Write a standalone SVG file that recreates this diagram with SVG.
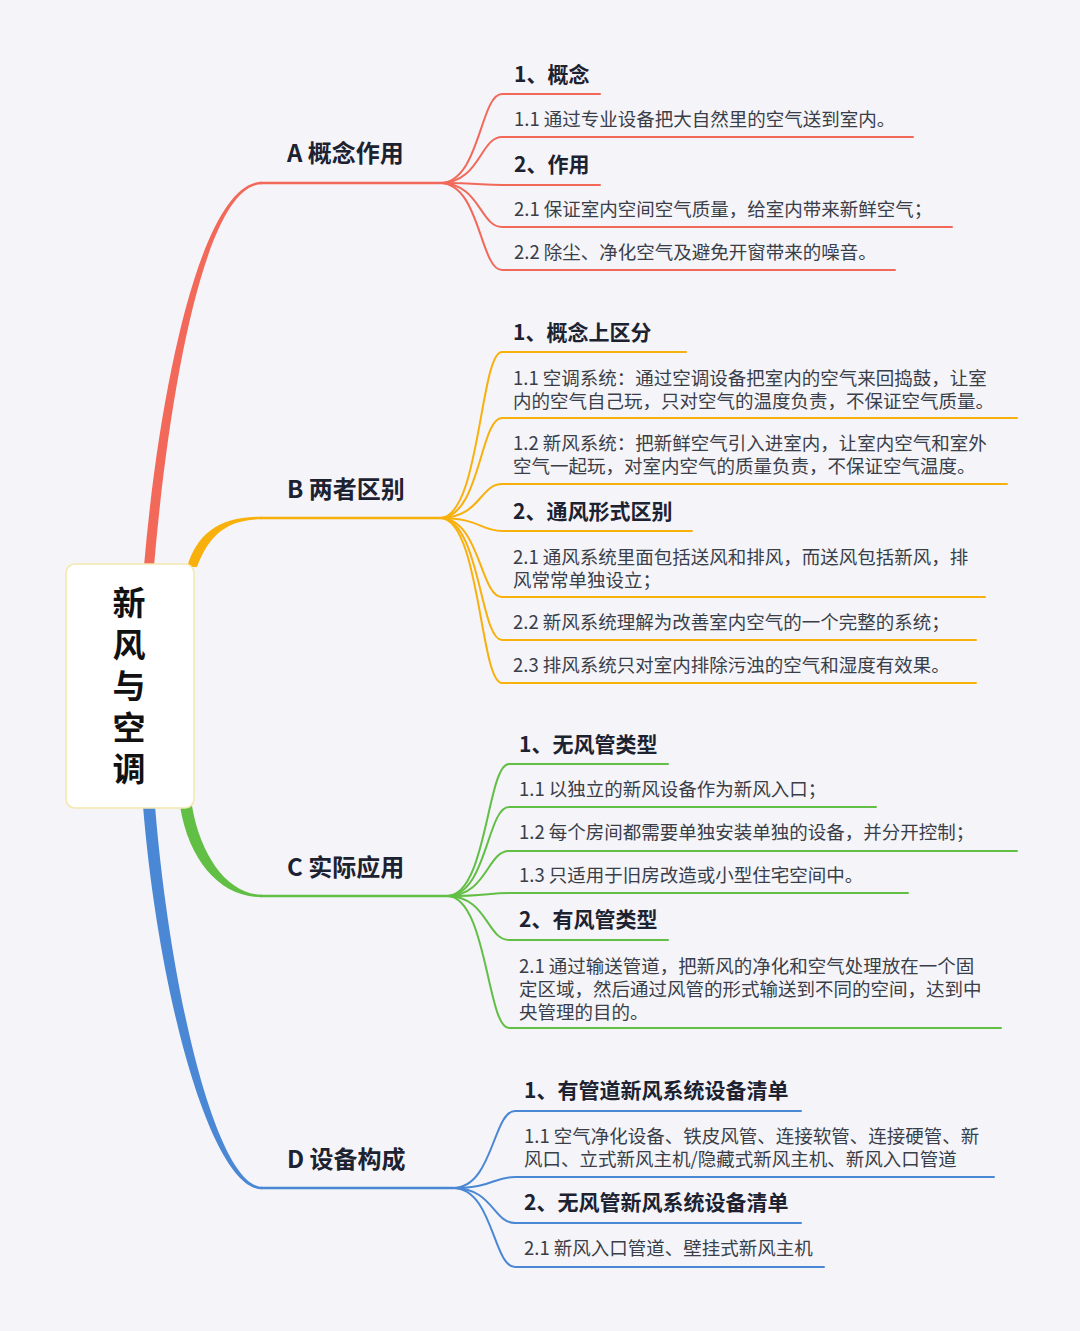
<svg xmlns="http://www.w3.org/2000/svg" width="1080" height="1331" viewBox="0 0 1080 1331">
<style>
.bg{fill:#f4f4f9}
.sub{fill:none;stroke-width:2;stroke-linecap:round}
.main{fill:none;stroke-width:2.6;stroke-linecap:round}
.r{stroke:#f2695a}.o{stroke:#f8b00c}.g{stroke:#62bf45}.b{stroke:#4a87d4}
.rf{fill:#f2695a}.of{fill:#f8b00c}.gf{fill:#62bf45}.bf{fill:#4a87d4}
text{font-family:"Noto Sans CJK SC","Noto Sans",sans-serif}
.t{font-size:18.5px;fill:#3a3e48}
.h{font-size:21px;font-weight:bold;fill:#1d2231}
.m{font-size:24px;font-weight:bold;fill:#1d2231}
.root{font-size:33px;font-weight:bold;fill:#111}
</style>
<rect class="bg" x="0" y="0" width="1080" height="1331"/>
<g id="connectors">
  <path class="rf" d="M144,566 C160,380 203,181.7 262,181.7 L262,184.3 C207,184.3 170,380 154,566 Z"/>
  <path class="of" d="M187,567 C198,532 220,516.7 262,516.7 L262,519.3 C224,519.3 208,538 197,567 Z"/>
  <path class="gf" d="M180,806 C189,862 221,897.3 262,897.3 L262,894.7 C229,894.7 201,858 192,806 Z"/>
  <path class="bf" d="M143,806 C159,1000 212,1189.3 262,1189.3 L262,1186.7 C218,1186.7 171,1000 155,806 Z"/>
  <path class="main r" d="M261,183 L440,183"/>
  <path class="main o" d="M261,518 L440,518"/>
  <path class="main g" d="M261,896 L447,896"/>
  <path class="main b" d="M261,1188 L453,1188"/>
  <path class="sub r" d="M440,183 C480,183 480,94 502,94 L600,94"/>
  <path class="sub r" d="M440,183 C480,183 480,137 502,137 L913,137"/>
  <path class="sub r" d="M440,183 C480,183 480,185 502,185 L600,185"/>
  <path class="sub r" d="M440,183 C480,183 480,227 502,227 L952,227"/>
  <path class="sub r" d="M440,183 C480,183 480,270 502,270 L895,270"/>
  <path class="sub o" d="M440,518 C480,518 480,352 502,352 L686,352"/>
  <path class="sub o" d="M440,518 C480,518 480,418 502,418 L1017,418"/>
  <path class="sub o" d="M440,518 C480,518 480,484 502,484 L1007,484"/>
  <path class="sub o" d="M440,518 C480,518 480,531 502,531 L692,531"/>
  <path class="sub o" d="M440,518 C480,518 480,597 502,597 L985,597"/>
  <path class="sub o" d="M440,518 C480,518 480,640 502,640 L976,640"/>
  <path class="sub o" d="M440,518 C480,518 480,683 502,683 L976,683"/>
  <path class="sub g" d="M447,896 C487,896 487,764 509,764 L668,764"/>
  <path class="sub g" d="M447,896 C487,896 487,807 509,807 L876,807"/>
  <path class="sub g" d="M447,896 C487,896 487,851 509,851 L1017,851"/>
  <path class="sub g" d="M447,896 C487,896 487,893 509,893 L908,893"/>
  <path class="sub g" d="M447,896 C487,896 487,940 509,940 L668,940"/>
  <path class="sub g" d="M447,896 C487,896 487,1028 509,1028 L1001,1028"/>
  <path class="sub b" d="M453,1188 C493,1188 493,1111 515,1111 L801,1111"/>
  <path class="sub b" d="M453,1188 C493,1188 493,1177 515,1177 L994,1177"/>
  <path class="sub b" d="M453,1188 C493,1188 493,1223 515,1223 L801,1223"/>
  <path class="sub b" d="M453,1188 C493,1188 493,1267 515,1267 L824,1267"/>
</g>
<g id="root">
  <rect x="66" y="564" width="128" height="244" rx="9" fill="#ffffff" stroke="#f3e8b0" stroke-width="1.6"/>
  <text class="root" x="129" y="586" writing-mode="vertical-rl" letter-spacing="8.5">新风与空调</text>
</g>
<g id="A">
  <text class="m" x="287" y="162">A 概念作用</text>
  <text class="h" x="514" y="82">1、概念</text>
  <text class="t" x="514" y="126">1.1 通过专业设备把大自然里的空气送到室内。</text>
  <text class="h" x="514" y="172">2、作用</text>
  <text class="t" x="514" y="216">2.1 保证室内空间空气质量，给室内带来新鲜空气；</text>
  <text class="t" x="514" y="259">2.2 除尘、净化空气及避免开窗带来的噪音。</text>
</g>
<g id="B">
  <text class="m" x="287" y="498">B 两者区别</text>
  <text class="h" x="513" y="340">1、概念上区分</text>
  <text class="t" x="513" y="384.5">1.1 空调系统：通过空调设备把室内的空气来回捣鼓，让室<tspan x="513" dy="23">内的空气自己玩，只对空气的温度负责，不保证空气质量。</tspan></text>
  <text class="t" x="513" y="449.5">1.2 新风系统：把新鲜空气引入进室内，让室内空气和室外<tspan x="513" dy="23">空气一起玩，对室内空气的质量负责，不保证空气温度。</tspan></text>
  <text class="h" x="513" y="519">2、通风形式区别</text>
  <text class="t" x="513" y="563.5">2.1 通风系统里面包括送风和排风，而送风包括新风，排<tspan x="513" dy="23">风常常单独设立；</tspan></text>
  <text class="t" x="513" y="628.5">2.2 新风系统理解为改善室内空气的一个完整的系统；</text>
  <text class="t" x="513" y="671.5">2.3 排风系统只对室内排除污浊的空气和湿度有效果。</text>
</g>
<g id="C">
  <text class="m" x="287" y="876">C 实际应用</text>
  <text class="h" x="519" y="752">1、无风管类型</text>
  <text class="t" x="519" y="795.5">1.1 以独立的新风设备作为新风入口；</text>
  <text class="t" x="519" y="838.5">1.2 每个房间都需要单独安装单独的设备，并分开控制；</text>
  <text class="t" x="519" y="881.5">1.3 只适用于旧房改造或小型住宅空间中。</text>
  <text class="h" x="519" y="927">2、有风管类型</text>
  <text class="t" x="519" y="972.5">2.1 通过输送管道，把新风的净化和空气处理放在一个固<tspan x="519" dy="23">定区域，然后通过风管的形式输送到不同的空间，达到中</tspan><tspan x="519" dy="23">央管理的目的。</tspan></text>
</g>
<g id="D">
  <text class="m" x="287" y="1168">D 设备构成</text>
  <text class="h" x="524" y="1098">1、有管道新风系统设备清单</text>
  <text class="t" x="524" y="1142.5">1.1 空气净化设备、铁皮风管、连接软管、连接硬管、新<tspan x="524" dy="23">风口、立式新风主机/隐藏式新风主机、新风入口管道</tspan></text>
  <text class="h" x="524" y="1210">2、无风管新风系统设备清单</text>
  <text class="t" x="524" y="1254.5">2.1 新风入口管道、壁挂式新风主机</text>
</g>
</svg>
